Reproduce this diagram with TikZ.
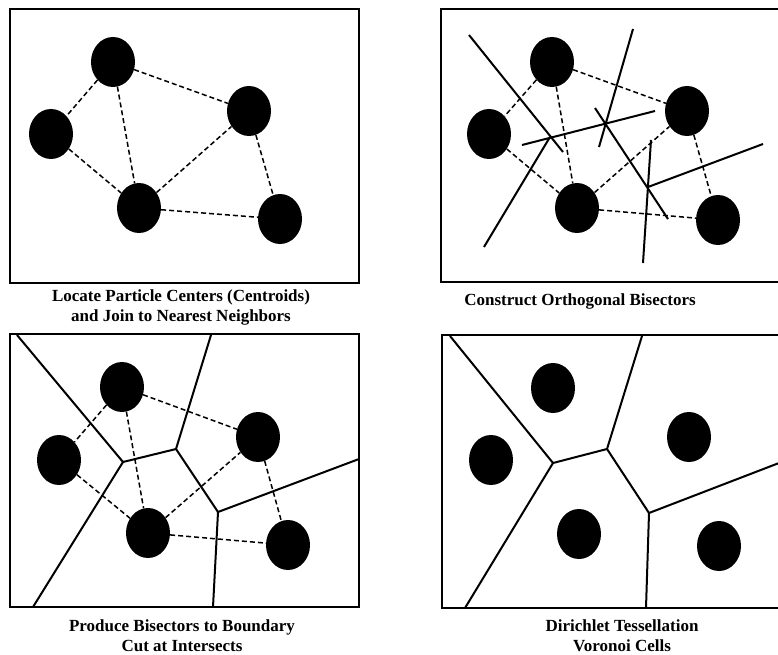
\documentclass[tikz,border=0pt]{standalone}
\usepackage{fontspec}
\setmainfont{Liberation Serif}
\usepackage{tikz}
\usetikzlibrary{shapes}
\tikzstyle{Cell}=[ellipse,fill=black,inner sep=0pt,minimum width=44pt,
minimum height=50pt]
\tikzstyle{Link}=[draw=black,line width=1.5pt,dash pattern=on 5pt off 3pt]
\tikzstyle{Bisector}=[draw=black,line width=2pt]
\tikzstyle{Frame}=[draw=black,line width=2pt]
\tikzstyle{Caption}=[font=\fontsize{17}{20}\selectfont\bfseries,align=center,
inner sep=1pt]

\begin{document}
\begin{tikzpicture}[x=1pt,y=-1pt]
        \useasboundingbox(0,0)rectangle(778,655);
        \draw[Frame](10,9)rectangle(359,283);
        \node[Cell](a1)at(113,62){};
        \node[Cell](b1)at(51,134){};
        \node[Cell](c1)at(249,111){};
        \node[Cell](d1)at(139,208){};
        \node[Cell](e1)at(280,219){};
        \draw[Link](a1)--(b1);
        \draw[Link](a1)--(c1);
        \draw[Link](a1)--(d1);
        \draw[Link](b1)--(d1);
        \draw[Link](d1)--(c1);
        \draw[Link](c1)--(e1);
        \draw[Link](d1)--(e1);
        \node[Caption](cap1)at(181,307){Locate Particle Centers (Centroids)\\
            and Join to Nearest Neighbors};
        \draw[Frame](779,9)--(441,9)--(441,282)--(779,282);
        \node[Cell](a2)at(552,62){};
        \node[Cell](b2)at(489,134){};
        \node[Cell](c2)at(687,111){};
        \node[Cell](d2)at(577,208){};
        \node[Cell](e2)at(718,220){};
        \draw[Link](a2)--(b2);
        \draw[Link](a2)--(c2);
        \draw[Link](a2)--(d2);
        \draw[Link](b2)--(d2);
        \draw[Link](d2)--(c2);
        \draw[Link](c2)--(e2);
        \draw[Link](d2)--(e2);
        \coordinate(ab2)at(469,35);
        \coordinate(ab2')at(563,152);
        \coordinate(bd2)at(484,247);
        \coordinate(bd2')at(550,137);
        \coordinate(ad2)at(522,145);
        \coordinate(ad2')at(655,111);
        \coordinate(ac2)at(633,29);
        \coordinate(ac2')at(599,147);
        \coordinate(dc2)at(595,108);
        \coordinate(dc2')at(668,219);
        \coordinate(ce2)at(648,187);
        \coordinate(ce2')at(763,144);
        \coordinate(de2)at(651,140);
        \coordinate(de2')at(643,263);
        \draw[Bisector](ab2)--(ab2');
        \draw[Bisector](bd2)--(bd2');
        \draw[Bisector](ad2)--(ad2');
        \draw[Bisector](ac2)--(ac2');
        \draw[Bisector](dc2)--(dc2');
        \draw[Bisector](ce2)--(ce2');
        \draw[Bisector](de2)--(de2');
        \node[Caption](cap2)at(580,301){Construct Orthogonal Bisectors};
        \draw[Frame](10,334)rectangle(359,607);
        \node[Cell](a3)at(122,387){};
        \node[Cell](b3)at(59,460){};
        \node[Cell](c3)at(258,437){};
        \node[Cell](d3)at(148,533){};
        \node[Cell](e3)at(288,545){};
        \draw[Link](a3)--(b3);
        \draw[Link](a3)--(c3);
        \draw[Link](a3)--(d3);
        \draw[Link](b3)--(d3);
        \draw[Link](d3)--(c3);
        \draw[Link](c3)--(e3);
        \draw[Link](d3)--(e3);
        \coordinate(u3)at(123,462);
        \coordinate(v3)at(176,449);
        \coordinate(w3)at(218,512);
        \coordinate(nw3)at(17,335);
        \coordinate(n3)at(211,335);
        \coordinate(e3')at(359,459);
        \coordinate(sw3)at(33,607);
        \coordinate(s3)at(213,607);
        \draw[Bisector](nw3)--(u3)--(v3)--(n3);
        \draw[Bisector](sw3)--(u3);
        \draw[Bisector](v3)--(w3)--(e3');
        \draw[Bisector](w3)--(s3);
        \node[Caption](cap3)at(182,636){Produce Bisectors to Boundary\\
            Cut at Intersects};
        \draw[Frame](779,335)--(442,335)--(442,608)--(779,608);
        \node[Cell](a4)at(553,388){};
        \node[Cell](b4)at(491,460){};
        \node[Cell](c4)at(689,437){};
        \node[Cell](d4)at(579,534){};
        \node[Cell](e4)at(719,546){};
        \coordinate(u4)at(553,463);
        \coordinate(v4)at(607,449);
        \coordinate(w4)at(649,513);
        \coordinate(nw4)at(450,336);
        \coordinate(n4)at(642,336);
        \coordinate(e4')at(779,463);
        \coordinate(sw4)at(465,608);
        \coordinate(s4)at(646,608);
        \draw[Bisector](nw4)--(u4)--(v4)--(n4);
        \draw[Bisector](sw4)--(u4);
        \draw[Bisector](v4)--(w4)--(e4');
        \draw[Bisector](w4)--(s4);
        \node[Caption](cap4)at(622,636){Dirichlet Tessellation\\
            Voronoi Cells};
    \end{tikzpicture}
\end{document}
